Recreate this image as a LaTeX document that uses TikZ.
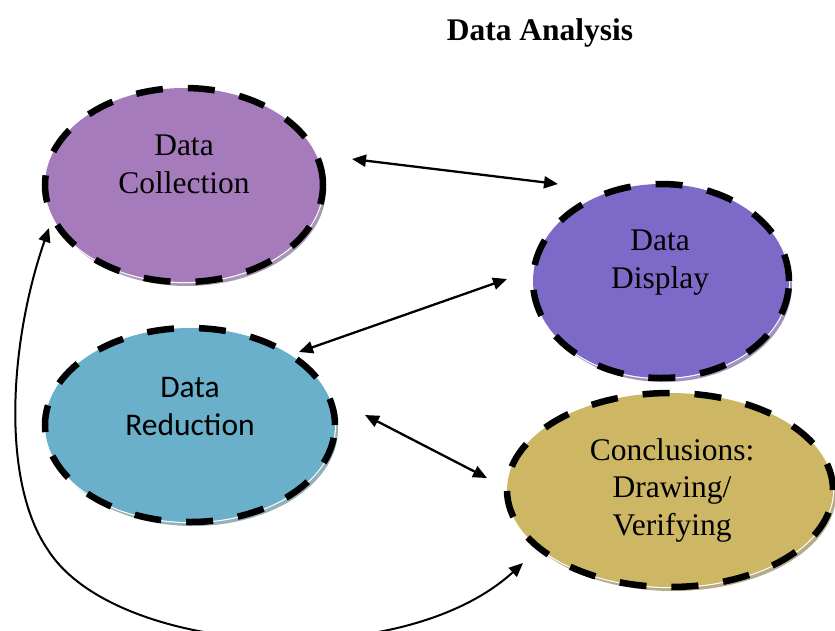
\documentclass[tikz,border=0pt]{standalone}
\usepackage{fontspec}
\setmainfont{Liberation Serif}
\newfontfamily\calibrifont{Carlito}
\usetikzlibrary{shapes.geometric,arrows.meta}

\definecolor{collcol}{RGB}{166,123,188}
\definecolor{collshd}{RGB}{168,152,180}
\definecolor{dispcol}{RGB}{125,106,200}
\definecolor{dispshd}{RGB}{160,150,188}
\definecolor{redcol}{RGB}{106,176,202}
\definecolor{redshd}{RGB}{150,176,186}
\definecolor{conccol}{RGB}{205,182,100}
\definecolor{concshd}{RGB}{182,172,140}

\tikzset{
  stage/.style={ellipse, inner sep=0pt, fill=#1,
    preaction={draw=white, line width=2.2pt, solid},
    draw=black, line width=6.5pt, dash pattern=on 27pt off 25pt},
  stagetext/.style={anchor=base, align=center,
    font=\fontsize{31.5}{37.5}\selectfont},
  link/.style={line width=2.3pt, {Triangle[length=14pt,width=12pt]}-{Triangle[length=14pt,width=12pt]}},
}

\begin{document}
\begin{tikzpicture}[x=1pt, y=-1pt]
  \useasboundingbox (0,0) rectangle (835,630);

  % title
  \node[anchor=base, font=\fontsize{31.5}{37.5}\selectfont\bfseries] (title) at (540,40) {Data Analysis};

  % drop shadows behind the four stages
  \fill[collshd] (187,189) ellipse [x radius=139, y radius=97];
  \fill[dispshd] (664,285) ellipse [x radius=128, y radius=97];
  \fill[redshd]  (193,429) ellipse [x radius=145, y radius=97];
  \fill[concshd] (673,494) ellipse [x radius=163, y radius=97];

  % the four stages
  \node[stage=collcol, minimum width=278, minimum height=194] (coll) at (184,185) {};
  \node[stage=dispcol, minimum width=256, minimum height=194] (disp) at (661,281) {};
  \node[stage=redcol,  minimum width=290, minimum height=194] (red)  at (190,425) {};
  \node[stage=conccol, minimum width=326, minimum height=194] (conc) at (670,490) {};

  % labels, placed by the baseline of their last line
  \node[stagetext] (colltext) at (184,193) {Data\\Collection};
  \node[stagetext] (disptext) at (660,288) {Data\\Display};
  \node[stagetext, font=\fontsize{31.5}{38}\selectfont\calibrifont] (redtext) at (190,435) {Data\\Reduction};
  \node[stagetext] (conctext) at (672,535) {Conclusions:\\Drawing/\\Verifying};

  % connector end points
  \coordinate (a1) at (352,159);
  \coordinate (a2) at (558,184);
  \coordinate (b1) at (299,352);
  \coordinate (b2) at (507,279);
  \coordinate (c1) at (365,415);
  \coordinate (c2) at (487,478);
  \coordinate (d1) at (49,228);
  \coordinate (d2) at (523,563);

  \draw[link] (a1) -- (a2);
  \draw[link] (b1) -- (b2);
  \draw[link] (c1) -- (c2);
  \draw[link, line width=2pt] (d1) .. controls (10,340) and (0,480) .. (48,550)
                   .. controls (115,655) and (400,675) .. (d2);
\end{tikzpicture}
\end{document}
